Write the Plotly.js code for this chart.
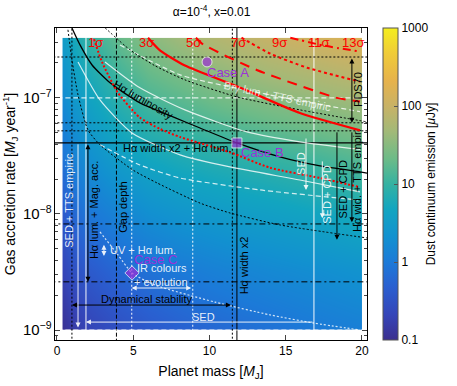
<!DOCTYPE html>
<html>
<head>
<meta charset="utf-8">
<script src="https://cdn.plot.ly/plotly-3.0.1.min.js"></script>
<style>
  html, body { margin: 0; padding: 0; background: #fff; }
  #chart { width: 457px; height: 386px; }
</style>
</head>
<body>
<div id="chart"></div>
<script>
// Grille de la carte d'emission (masse en MJ, taux en MJ/an, flux en microJy)
const massGrid = [0.35, 1, 2, 4, 6, 8, 10, 12, 14, 17, 20];
const mdotGrid = [1e-9, 3.16e-9, 1e-8, 3.16e-8, 1e-7, 3.3e-7];
const dustFlux = [
  [0.11, 0.15, 0.2, 0.3, 0.4, 0.5, 0.6, 0.7, 0.8, 1.0, 1.2],
  [0.2, 0.3, 0.4, 0.6, 0.8, 1.0, 1.2, 1.4, 1.6, 1.9, 2.3],
  [0.4, 0.6, 0.9, 1.4, 2.0, 2.5, 2.9, 3.4, 3.8, 4.7, 6.0],
  [0.85, 1.3, 2.0, 3.6, 5.2, 6.5, 7.8, 9.0, 10.5, 13, 17],
  [1.7, 2.7, 4.3, 8.5, 13.5, 17, 22, 27, 32, 40, 50],
  [3.2, 5.2, 9.5, 19, 32, 46, 62, 78, 98, 125, 160]
];
const colorTicks = [0.1, 1, 10, 100, 1000];

// Contours en sigma
const sigma1Mass = [2.43, 2.95, 3.97, 5.41, 6.75, 8.07, 11.34, 13.97, 17.25, 19.87];
const sigma1Mdot = [3.2e-7, 2.04e-7, 1.12e-7, 6.8e-8, 5.4e-8, 4.6e-8, 3.4e-8, 2.5e-8, 2.04e-8, 1.7e-8];
const sigma3Mass = [5.97, 6.75, 8.39, 12.0, 15.93, 19.87];
const sigma3Mdot = [3.3e-7, 2.57e-7, 1.9e-7, 1.23e-7, 7.4e-8, 5.25e-8];
const sigma5Mass = [9.11, 9.57, 13.1, 18.36, 19.87];
const sigma5Mdot = [3.3e-7, 2.9e-7, 1.74e-7, 1.0e-7, 9.3e-8];
const sigma7Mass = [12.1, 14.0, 16.4, 19.87];
const sigma7Mdot = [3.3e-7, 2.4e-7, 1.82e-7, 1.38e-7];
const sigma9Mass = [15.3, 17.5, 19.87];
const sigma9Mdot = [3.3e-7, 2.82e-7, 2.51e-7];
const sigmaLabels = ["1σ", "3σ", "5σ", "7σ", "9σ", "11σ", "13σ"];
const sigmaLabelMass = [2.5, 5.9, 8.98, 11.9, 14.6, 17.2, 19.4];

// Courbe H-alpha luminosite
const haLumMass = [0.98, 1.51, 2.30, 3.48, 5.44, 7.61, 9.38, 11.8, 14.62, 17.25, 19.87, 20.33];
const haLumMdot = [4.0e-7, 2.86e-7, 1.92e-7, 1.35e-7, 9.05e-8, 6.86e-8, 5.5e-8, 4.09e-8, 3.1e-8, 2.59e-8, 2.3e-8, 2.25e-8];

// Courbe Br-gamma + TTS
const brgMass = [4.13, 8.07, 13.97, 19.87];
const brgMdot = [2.86e-7, 1.58e-7, 1.06e-7, 7.6e-8];

// Courbe UV + H-alpha (pointillés blancs)
const uvMass = [2.82, 4.0, 4.92, 6.43, 10.36, 13.97, 16.8, 19.87];
const uvMdot = [7.0e-9, 4.44e-9, 3.1e-9, 2.44e-9, 1.74e-9, 1.35e-9, 1.15e-9, 1.0e-9];

// Autres courbes (pointillés noirs, traits blancs)
const dotUpperMass = [2.95, 4.79, 6.43, 8.39, 11.8, 15.93, 20.33];
const dotUpperMdot = [4.25e-7, 2.59e-7, 1.89e-7, 1.43e-7, 1.02e-7, 7.88e-8, 6.21e-8];
const dotLowerMass = [0.72, 0.98, 1.38, 2.03, 2.82, 4.98, 6.56, 9.38, 11.34, 14.62, 20.33];
const dotLowerMdot = [3.86e-7, 2.13e-7, 1.06e-7, 5.3e-8, 3.94e-8, 2.39e-8, 1.85e-8, 1.24e-8, 1.02e-8, 8.04e-9, 6.21e-9];
const whiteBMass = [1.38, 2.82, 4.92, 8.07, 11.34, 15.93, 19.87];
const whiteBMdot = [2.04e-7, 9.6e-8, 4.99e-8, 3.23e-8, 2.54e-8, 1.96e-8, 1.55e-8];
const whiteCMass = [3.15, 5.44, 8.39, 12.46, 15.93, 19.87];
const whiteCMdot = [2.04e-7, 1.22e-7, 7.88e-8, 5.09e-8, 4.18e-8, 3.6e-8];
const whiteDashMass = [2.82, 5.44, 8.07, 13.31, 19.74];
const whiteDashMdot = [3.94e-8, 2.64e-8, 2.04e-8, 1.61e-8, 1.32e-8];

// Contraintes verticales (masse) et horizontales (taux)
const vBlackDot = [0.98, 11.5];
const vBlackDash = [3.9];
const vBlackSolid = [11.8];
const vWhiteSolid = [1.9, 16.85];
const vWhiteDot = [4.9, 8.9];
const hBlackDot = [2.25e-7, 6.1e-8, 5.2e-8];
const hBlackSolid = [4.1e-8];
const hBlackDashDot = [8.2e-9, 2.6e-9];
const hWhiteDash = [1e-7, 1e-9];

// Fleches des contraintes
const dynStabMass = [0.98, 11.5], dynStabMdot = 1.64e-9;
const sedBottomMass = [1.9, 16.85], sedBottomMdot = 1.17e-9;
const irColMass = [4.9, 8.9], irColMdot = 2.3e-9;
const uvHaMass = 3.08, uvHaMdot = [5.6e-9, 4.35e-9];
const magAccMass = 2.03, magAccMdot = [4.1e-8, 2.6e-9];
const sedTtsMass = 1.38, sedTtsMdot = [4.1e-8, 1.05e-9];
const sedRightMass = 16.33, sedRightMdot = [4.6e-8, 1.61e-8];
const sedCpdWMass = 17.4, sedCpdWMdot = [2.92e-8, 9.2e-9];
const sedCpdBMass = 18.36, sedCpdBMdot = [5.2e-8, 6.0e-9];
const haWidTtsMass = 19.34, haWidTtsMdot = [5.2e-8, 8.5e-9];
const pdsMass = 19.34, pdsMdot = [2.25e-7, 6.1e-8];

// Cas A, B, C
const caseMass = [9.84, 11.8, 4.92];
const caseMdot = [2.04e-7, 4.09e-8, 3.1e-9];
const caseNames = ["Case A", "Case B", "Case C"];
const caseSymbols = ["circle", "square", "diamond"];
const caseLabelMass = [11.2, 13.5, 6.49];
const caseLabelMdot = [1.64e-7, 3.36e-8, 4.09e-9];

const xFull = [-0.5, 21];
const yFull = [3e-10, 6e-7];
const purple = "#9b30d8";
const lg = Math.log10;

const traces = [];

// Carte de fond (contour colore en mode heatmap pour coller aux bords)
traces.push({
  type: "contour",
  x: massGrid,
  y: mdotGrid,
  z: dustFlux.map(r => r.map(v => lg(v))),
  zmin: -1, zmax: 3,
  contours: { coloring: "heatmap", showlines: false },
  line: { width: 0 },
  hoverinfo: "skip",
  colorscale: [
    [0.0, "#3b2f8e"], [0.08, "#3545b8"], [0.17, "#2a5fd0"], [0.25, "#1c7ad8"],
    [0.33, "#1291d0"], [0.42, "#12a5c0"], [0.5, "#35b2a2"], [0.58, "#6cbb88"],
    [0.67, "#a3b978"], [0.75, "#c8b266"], [0.83, "#e6b24c"], [0.92, "#f0cc38"],
    [1.0, "#f4ee1e"]
  ],
  colorbar: {
    x: 1.051, xanchor: "left", y: 0, yanchor: "bottom", len: 1, lenmode: "fraction",
    thickness: 15, xpad: 0, ypad: 0, outlinewidth: 1, outlinecolor: "#555",
    tickvals: colorTicks.map(lg), ticktext: colorTicks.map(String),
    ticks: "inside", ticklen: 4, tickcolor: "#555",
    tickfont: { size: 12, color: "#000" },
    title: { text: "Dust continuum emission [<i>μ</i>Jy]", side: "right", font: { size: 12 } }
  }
});

function addLine(x, y, color, dash, width) {
  traces.push({ type: "scatter", mode: "lines", x: x, y: y, hoverinfo: "skip",
    line: { color: color, dash: dash, width: width, shape: "spline", smoothing: 0.6 },
    showlegend: false });
}

const white = "rgba(255,255,255,0.9)";
const whiteLine = "rgba(255,255,255,0.8)";

vBlackDot.forEach(m => addLine([m, m], yFull, "#000", "2px,2px", 1));
vBlackDash.forEach(m => addLine([m, m], yFull, "#000", "4px,2px", 1));
vBlackSolid.forEach(m => addLine([m, m], yFull, "#000", "solid", 1));
vWhiteSolid.forEach(m => addLine([m, m], yFull, whiteLine, "solid", 1.2));
vWhiteDot.forEach(m => addLine([m, m], yFull, whiteLine, "2px,2px", 1.2));
hBlackDot.forEach(v => addLine(xFull, [v, v], "#000", "2px,2px", 1));
hBlackSolid.forEach(v => addLine(xFull, [v, v], "#000", "solid", 1.2));
hBlackDashDot.forEach(v => addLine(xFull, [v, v], "#000", "6px,3px,2px,3px", 1));
hWhiteDash.forEach(v => addLine(xFull, [v, v], whiteLine, "5px,3px", 1.2));

addLine(whiteBMass, whiteBMdot, whiteLine, "solid", 1.2);
addLine(whiteCMass, whiteCMdot, whiteLine, "solid", 1.2);
addLine(whiteDashMass, whiteDashMdot, whiteLine, "5px,3px", 1.2);
addLine(brgMass, brgMdot, whiteLine, "5px,3px", 1.2);
addLine(uvMass, uvMdot, whiteLine, "2px,2px", 1.2);
addLine(dotUpperMass, dotUpperMdot, "#000", "2px,2px", 1);
addLine(dotLowerMass, dotLowerMdot, "#000", "2px,2px", 1);
addLine(haLumMass, haLumMdot, "#000", "solid", 1.3);

addLine(sigma1Mass, sigma1Mdot, "#ff0000", "2px,2px", 2);
addLine(sigma3Mass, sigma3Mdot, "#ff0000", "solid", 2.2);
addLine(sigma5Mass, sigma5Mdot, "#ff0000", "10px,7px", 2);
addLine(sigma7Mass, sigma7Mdot, "#ff0000", "3px,3px", 2);
addLine(sigma9Mass, sigma9Mdot, "#ff0000", "8px,4px,2px,4px", 2);

traces.push({
  type: "scatter", mode: "markers", x: caseMass, y: caseMdot, hoverinfo: "skip",
  marker: { color: purple, size: [10, 10, 11], symbol: caseSymbols }
});

const annotations = [];

function arrow(x0, y0, x1, y1, color, both) {
  annotations.push({
    x: x1, y: lg(y1), ax: x0, ay: lg(y0), xref: "x", yref: "y", axref: "x", ayref: "y",
    text: "", showarrow: true, arrowhead: 2, arrowsize: 1, arrowwidth: 1,
    arrowcolor: color, arrowside: both ? "end+start" : "end", standoff: 0, startstandoff: 0
  });
}

arrow(dynStabMass[1], dynStabMdot, dynStabMass[0], dynStabMdot, "#000", true);
arrow(sedBottomMass[1], sedBottomMdot, sedBottomMass[0], sedBottomMdot, white, false);
arrow(irColMass[1], irColMdot, irColMass[0], irColMdot, white, true);
arrow(uvHaMass, uvHaMdot[0], uvHaMass, uvHaMdot[1], white, true);
arrow(magAccMass, magAccMdot[0], magAccMass, magAccMdot[1], "#000", true);
arrow(sedTtsMass, sedTtsMdot[0], sedTtsMass, sedTtsMdot[1], white, false);
arrow(sedRightMass, sedRightMdot[0], sedRightMass, sedRightMdot[1], white, false);
arrow(sedCpdWMass, sedCpdWMdot[0], sedCpdWMass, sedCpdWMdot[1], white, false);
arrow(sedCpdBMass, sedCpdBMdot[0], sedCpdBMass, sedCpdBMdot[1], "#000", false);
arrow(haWidTtsMass, haWidTtsMdot[0], haWidTtsMass, haWidTtsMdot[1], "#000", false);
arrow(pdsMass, pdsMdot[0], pdsMass, pdsMdot[1], "#000", true);

function label(text, m, mdot, color, size, angle, xanchor) {
  annotations.push({
    x: m, y: lg(mdot), xref: "x", yref: "y", text: text, showarrow: false,
    textangle: angle || 0, xanchor: xanchor || "center",
    font: { color: color, size: size }
  });
}

label("Hα luminosity", 5.7, 9.6e-8, "#000", 11, 30);
label("Hα width x2 + Hα lum.", 7.87, 3.7e-8, "#000", 11, 0);
label("Dynamical stability", 5.9, 1.85e-9, "#000", 11, 0);
label("Gap depth", 4.33, 1.13e-8, "#000", 11, -90);
label("Hα lum. + Mag. acc.", 2.43, 1.08e-8, "#000", 11, -90);
label("Hα width x2", 12.26, 3.6e-9, "#000", 11, -90);
label("SED + CPD", 18.75, 1.62e-8, "#000", 11, -90);
label("Hα wid. + TTS empir.", 19.67, 1.96e-8, "#000", 11, -90);
label("PDS70", 19.74, 1.17e-7, "#000", 11, -90);
label("SED + TTS empiric", 0.79, 1.3e-8, white, 11, -90);
label("UV + Hα lum.", 3.35, 4.9e-9, white, 11, 0, "left");
label("IR colours", 6.89, 3.42e-9, white, 11, 0);
label("+ evolution", 6.82, 2.59e-9, white, 11, 0);
label("SED", 9.64, 1.29e-9, white, 11, 0);
label("SED", 16.0, 2.75e-8, white, 11, -90);
label("SED + CPD", 17.7, 1.46e-8, white, 11, -90);
label("Brγ lum + TTS empiric", 14.43, 1.04e-7, "rgba(255,255,255,0.75)", 11, 12);

caseNames.forEach((n, i) => label(n, caseLabelMass[i], caseLabelMdot[i], purple, 13, 0));

sigmaLabels.forEach((s, i) => {
  annotations.push({
    x: sigmaLabelMass[i], y: 0.984, xref: "x", yref: "paper", text: s, showarrow: false,
    font: { color: "#ff0000", size: 13 }
  });
});

const layout = {
  width: 457, height: 386,
  margin: { l: 55, r: 90, t: 28, b: 46 },
  paper_bgcolor: "#fff", plot_bgcolor: "#fff",
  font: { family: "Liberation Sans, Arial, sans-serif", size: 12, color: "#000" },
  showlegend: false,
  title: { text: "α=10<sup>-4</sup>, x=0.01", x: 0.463, xanchor: "center", y: 0.98, font: { size: 12 } },
  xaxis: {
    range: [-0.13, 20.33], tickvals: [0, 5, 10, 15, 20], ticks: "inside", ticklen: 5,
    showline: true, mirror: "ticks", linecolor: "#000", linewidth: 1,
    showgrid: false, zeroline: false,
    title: { text: "Planet mass [<i>M</i><sub>J</sub>]", standoff: 8 }
  },
  yaxis: {
    type: "log", range: [lg(8.2e-10), lg(4.0e-7)], dtick: 1, exponentformat: "power",
    ticks: "inside", ticklen: 5, showline: true, mirror: "ticks", linecolor: "#000", linewidth: 1,
    minor: { ticks: "inside", ticklen: 3 },
    showgrid: false, zeroline: false,
    title: { text: "Gas accretion rate [<i>M</i><sub>J</sub> year<sup>-1</sup>]", standoff: 6 }
  },
  annotations: annotations
};

Plotly.newPlot("chart", traces, layout, { displayModeBar: false, staticPlot: true });
</script>
</body>
</html>
